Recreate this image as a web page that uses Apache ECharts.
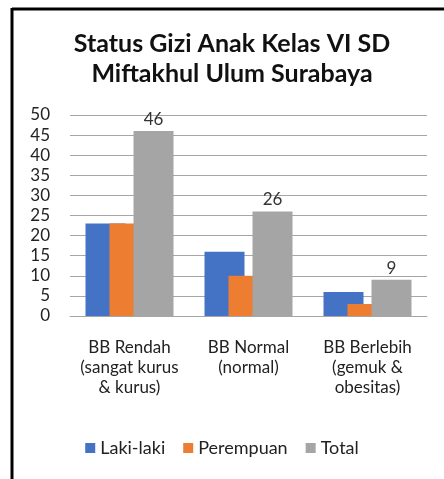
<!DOCTYPE html>
<html>
<head>
<meta charset="utf-8">
<script src="https://cdn.jsdelivr.net/npm/echarts@6/dist/echarts.min.js"></script>
<style>
html, body { margin: 0; padding: 0; background: #fff; }
#chart { width: 444px; height: 479px; }
</style>
</head>
<body>
<div id="chart"></div>
<script>
var categories = ['BB Rendah\n(sangat kurus\n& kurus)', 'BB Normal\n(normal)\n', 'BB Berlebih\n(gemuk &\nobesitas)'];
var lakiLaki = [23, 16, 6];
var perempuan = [23, 10, 3];
var total = [46, 26, 9];

var font = 'Lato, "Open Sans", sans-serif';
var myChart = echarts.init(document.getElementById('chart'));
var option = {
	backgroundColor: '#fff',
	animation: false,
	title: {
		text: 'Status Gizi Anak Kelas VI SD\nMiftakhul Ulum Surabaya',
		left: 227,
		top: 24,
		textAlign: 'center',
		textStyle: {
			fontFamily: font,
			fontSize: 25,
			fontWeight: 'bold',
			color: '#111',
			lineHeight: 30
		}
	},
	legend: {
		bottom: 17,
		left: 'center',
		itemWidth: 10,
		itemHeight: 10,
		itemGap: 18,
		icon: 'rect',
		textStyle: { fontFamily: font, fontSize: 18, color: '#222' },
		data: ['Laki-laki', 'Perempuan', 'Total']
	},
	grid: { left: 70, right: 17, top: 115, bottom: 163 },
	xAxis: {
		type: 'category',
		data: categories,
		axisTick: { show: false },
		axisLine: { lineStyle: { color: '#a6a6a6' } },
		axisLabel: {
			fontFamily: font,
			fontSize: 17,
			lineHeight: 20,
			color: '#222',
			margin: 22,
			interval: 0,
			verticalAlign: 'top'
		}
	},
	yAxis: {
		type: 'value',
		min: 0,
		max: 50,
		interval: 5,
		axisLine: { show: false },
		axisTick: { show: false },
		splitLine: { lineStyle: { color: '#a6a6a6' } },
		axisLabel: { fontFamily: font, fontSize: 17, color: '#222', margin: 20 }
	},
	series: [{
		name: 'Laki-laki',
		type: 'bar',
		data: lakiLaki,
		barWidth: 40,
		barGap: '-40%',
		barCategoryGap: '26%',
		itemStyle: { color: '#4472c4' }
	}, {
		name: 'Perempuan',
		type: 'bar',
		data: perempuan,
		barWidth: 40,
		barGap: '-40%',
		itemStyle: { color: '#ed7d31' }
	}, {
		name: 'Total',
		type: 'bar',
		data: total,
		barWidth: 40,
		barGap: '-40%',
		itemStyle: { color: '#a5a5a5' },
		label: {
			show: true,
			position: 'top',
			distance: 3,
			fontFamily: font,
			fontSize: 17,
			color: '#333'
		}
	}],
	graphic: [{
		type: 'line',
		shape: { x1: 12, y1: 9, x2: 444, y2: 9 },
		style: { stroke: '#000', lineWidth: 3 }
	}, {
		type: 'line',
		shape: { x1: 12, y1: 8, x2: 12, y2: 479 },
		style: { stroke: '#000', lineWidth: 3 }
	}]
};
myChart.setOption(option);
</script>
</body>
</html>
